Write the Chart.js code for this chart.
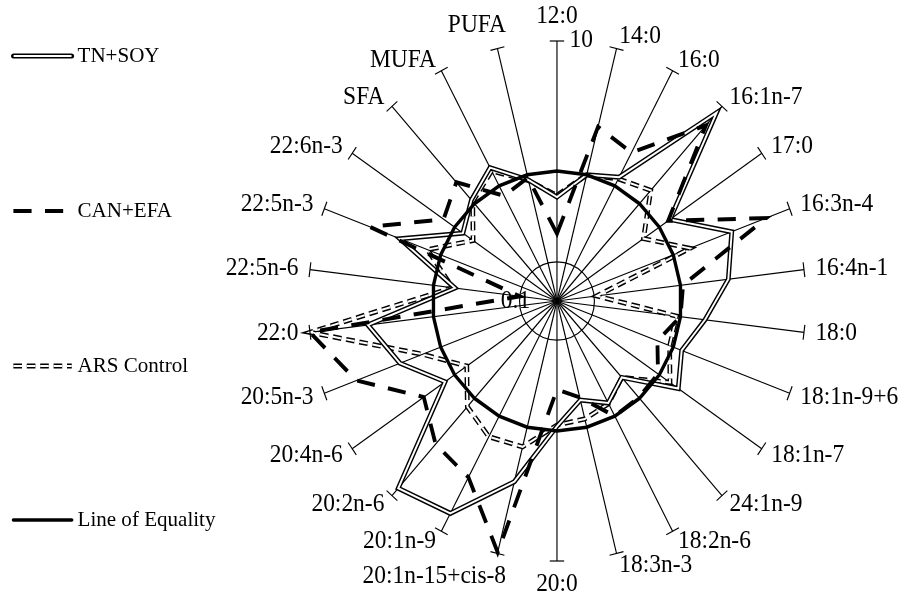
<!DOCTYPE html>
<html>
<head>
<meta charset="utf-8">
<script src="https://cdn.jsdelivr.net/npm/chart.js@4/dist/chart.umd.min.js"></script>
<style>
  html, body { margin: 0; padding: 0; background: #fff; overflow: hidden; }
  canvas { display: block; }
</style>
</head>
<body>
<canvas id="chart" width="945" height="597"></canvas>
<script>
const categories = ['12:0', '14:0', '16:0', '16:1n-7', '17:0', '16:3n-4', '16:4n-1', '18:0',
  '18:1n-9+6', '18:1n-7', '24:1n-9', '18:2n-6', '18:3n-3', '20:0', '20:1n-15+cis-8', '20:1n-9',
  '20:2n-6', '20:4n-6', '20:5n-3', '22:0', '22:5n-6', '22:5n-3', '22:6n-3', 'SFA', 'MUFA', 'PUFA'];

// ratios to reference (log scale 0.1 - 10)
const tnSoy = [0.63, 1.0, 1.19, 8.6, 1.27, 3.18, 2.44, 1.58, 1.18, 1.53, 0.61, 0.77, 0.61,
  0.92, 2.7, 7.0, 8.4, 1.24, 2.24, 3.4, 0.67, 2.24, 0.83, 1.09, 1.44, 0.91];
const canEfa = [0.33, 2.4, 1.95, 6.4, 1.22, 6.3, 1.05, 1.0, 0.73, 0.97, 0.98, 1.0, 0.58,
  0.48, 9.8, 3.4, 2.96, 2.0, 5.3, 10, 0.2, 4.05, 1.28, 1.66, 0.82, 0.95];
const arsControl = [0.65, 1.0, 1.15, 1.37, 0.7, 1.39, 0.21, 0.93, 0.93, 1.27, 0.61, 0.78, 0.86,
  0.9, 1.43, 1.51, 1.22, 0.76, 1.43, 10, 0.7, 1.3, 0.66, 1.05, 1.35, 0.9];
const equality = [1, 1, 1, 1, 1, 1, 1, 1, 1, 1, 1, 1, 1, 1, 1, 1, 1, 1, 1, 1, 1, 1, 1, 1, 1, 1];

const tickValues = [0.1, 10];
const tickLabels = ['0.1', '10'];
const gridValues = [0.2];

const X_SQUEEZE = 0.957;   // source figure is a bit narrower than tall
const FONT = "'Liberation Serif', 'Times New Roman', serif";
const legendY = [56, 211, 366, 520];

const toLog = arr => arr.map(v => Math.log10(v));
const common = { fill: false, tension: 0, pointRadius: 0, pointHitRadius: 0, clip: false, borderJoinStyle: 'miter' };

const datasets = [
  { ...common, label: 'TN+SOY', data: toLog(tnSoy), borderColor: '#000', borderWidth: 5, order: 3, double: true },
  { ...common, label: '', data: toLog(tnSoy), borderColor: '#fff', borderWidth: 2, order: 2 },
  { ...common, label: 'CAN+EFA', data: toLog(canEfa), borderColor: '#000', borderWidth: 4, borderDash: [19, 14], order: 1 },
  { ...common, label: 'ARS Control', data: toLog(arsControl), borderColor: '#000', borderWidth: 5, borderDash: [9, 5], order: 5, double: true },
  { ...common, label: '', data: toLog(arsControl), borderColor: '#fff', borderWidth: 2, borderDash: [9, 5], order: 4 },
  { ...common, label: 'Line of Equality', data: toLog(equality), borderColor: '#000', borderWidth: 3.5, order: 0 }
];

function drawDecor(chart) {
  const ctx = chart.ctx;
  const scale = chart.scales.r;
  const R = scale.drawingArea;
  ctx.save();
  ctx.strokeStyle = '#000';
  ctx.fillStyle = '#000';

  // end caps on each axis
  ctx.lineWidth = 1.2;
  chart.data.labels.forEach((lab, i) => {
    const p = scale.getPointPosition(i, R);
    const nx = -Math.sin(p.angle), ny = Math.cos(p.angle);
    ctx.beginPath();
    ctx.moveTo(p.x - nx * 7.5, p.y - ny * 7.5);
    ctx.lineTo(p.x + nx * 7.5, p.y + ny * 7.5);
    ctx.stroke();
  });

  // axis labels
  ctx.font = '24.5px ' + FONT;
  chart.data.labels.forEach((lab, i) => {
    const p = scale.getPointPosition(i, R);
    const ux = Math.cos(p.angle), uy = Math.sin(p.angle);
    ctx.textBaseline = 'middle';
    if (Math.abs(ux) < 0.05) {
      ctx.textAlign = 'center';
      ctx.fillText(lab, p.x, p.y + uy * 24);
    } else if (ux < 0 && ux > -0.3) {
      ctx.textAlign = 'right';
      ctx.fillText(lab, p.x + 9, p.y + uy * 24);
    } else {
      ctx.textAlign = ux > 0 ? 'left' : 'right';
      ctx.fillText(lab, p.x + ux * 12, p.y + uy * 12);
    }
  });

  // value labels
  tickValues.forEach((v, i) => {
    const d = scale.getDistanceFromCenterForValue(Math.log10(v));
    const p = scale.getPointPosition(0, d);
    ctx.textBaseline = 'middle';
    if (d < 1) {
      ctx.textAlign = 'right';
      ctx.fillText(tickLabels[i], p.x - 28, p.y + 1);
    } else {
      ctx.textAlign = 'left';
      ctx.fillText(tickLabels[i], p.x + 13, p.y);
    }
  });

  // legend
  const x0 = 14, x1 = 75;
  ctx.font = '22px ' + FONT;
  chart.data.datasets.filter(ds => ds.label).forEach((ds, k) => {
    const y = legendY[k];
    ctx.setLineDash(ds.borderDash || []);
    ctx.lineCap = ds.borderDash ? 'butt' : 'round';
    ctx.lineWidth = ds.borderWidth;
    ctx.strokeStyle = '#000';
    ctx.beginPath(); ctx.moveTo(x0, y); ctx.lineTo(x1, y); ctx.stroke();
    if (ds.double) {
      ctx.lineWidth = 2;
      ctx.strokeStyle = '#fff';
      ctx.beginPath(); ctx.moveTo(x0 + (ds.borderDash ? 0 : 1), y); ctx.lineTo(x1 - (ds.borderDash ? 0 : 1), y); ctx.stroke();
    }
    ctx.setLineDash([]);
    ctx.fillStyle = '#000';
    ctx.textAlign = 'left';
    ctx.textBaseline = 'middle';
    ctx.fillText(ds.label, x1 + 6, y);
  });
  ctx.restore();
}

const squeeze = {
  id: 'squeeze',
  beforeDraw(chart) { chart.ctx.save(); chart.ctx.scale(X_SQUEEZE, 1); },
  afterDraw(chart) { drawDecor(chart); chart.ctx.restore(); }
};

const isGrid = v => gridValues.some(g => Math.abs(Math.log10(g) - v) < 1e-6);

new Chart(document.getElementById('chart').getContext('2d'), {
  type: 'radar',
  data: { labels: categories, datasets: datasets },
  options: {
    responsive: false,
    animation: false,
    layout: { padding: { left: 322, right: 103, top: 41, bottom: 36 } },
    plugins: { legend: { display: false }, tooltip: { enabled: false } },
    scales: {
      r: {
        min: -1,
        max: 1,
        startAngle: 0,
        afterBuildTicks: s => {
          s.ticks = [-1, ...gridValues.map(g => Math.log10(g)), 1].map(v => ({ value: v }));
        },
        ticks: { display: false },
        grid: {
          circular: true,
          lineWidth: 1.2,
          color: c => (c.tick && isGrid(c.tick.value)) ? '#000' : 'rgba(0,0,0,0)'
        },
        angleLines: { color: '#000', lineWidth: 1.2 },
        pointLabels: { display: false }
      }
    }
  },
  plugins: [squeeze]
});
</script>
</body>
</html>
